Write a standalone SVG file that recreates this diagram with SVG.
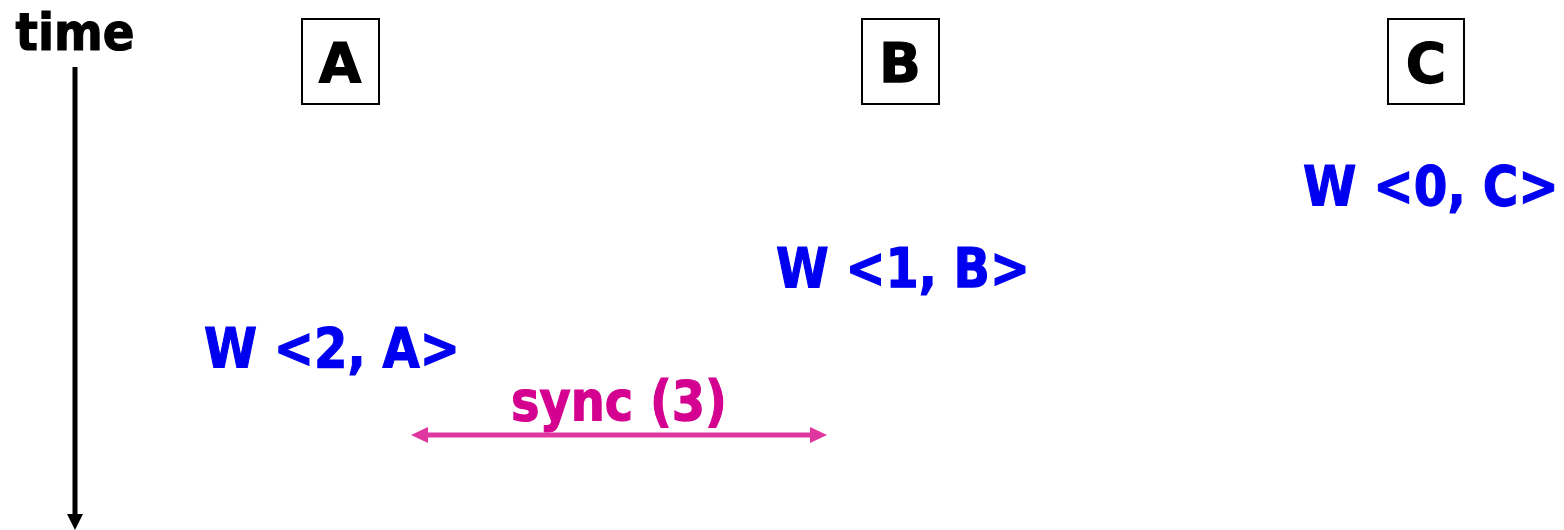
<svg xmlns="http://www.w3.org/2000/svg" width="1564" height="530" viewBox="0 0 1564 530">
<style>
text{font-family:"DejaVu Sans",Verdana,sans-serif;font-weight:bold;stroke-width:1.2;}
.lbl{font-size:55px;fill:#000;stroke:#000;text-anchor:middle;}
.w{font-size:55px;fill:#0000F0;stroke:#0000F0;}
.box{fill:#fff;stroke:#000;stroke-width:2;}
.pk{fill:#E036A0;}
</style>
<g id="time-axis">
<text x="75" y="50" font-size="52" text-anchor="middle" fill="#000" stroke="#000" textLength="119" lengthAdjust="spacingAndGlyphs">time</text>
</g>
<g id="node-A"><rect class="box" x="302" y="19" width="77" height="85"/><text class="lbl" x="340" y="82">A</text></g>
<g id="node-B"><rect class="box" x="862" y="19" width="77" height="85"/><text class="lbl" x="900" y="82">B</text></g>
<g id="node-C"><rect class="box" x="1388" y="19" width="76" height="85"/><text class="lbl" x="1426" y="82">C</text></g>
<g id="w0"><text class="w" transform="translate(1303,205) scale(0.88,1)" x="0" y="0">W &lt;0, C&gt;</text></g>
<g id="w1"><text class="w" x="776" y="287" textLength="254" lengthAdjust="spacingAndGlyphs">W &lt;1, B&gt;</text></g>
<g id="w2"><text class="w" x="204" y="367" textLength="256" lengthAdjust="spacingAndGlyphs">W &lt;2, A&gt;</text></g>
<g id="sync"><text x="511" y="420" font-size="55" fill="#D4008F" stroke="#D4008F" textLength="216" lengthAdjust="spacingAndGlyphs">sync (3)</text></g>
<g id="connectors">
<line x1="75" y1="67" x2="75" y2="516" stroke="#000" stroke-width="5"/>
<path d="M67,514L83,514L75,530z" fill="#000"/>
<line x1="426" y1="435" x2="812" y2="435" stroke="#E036A0" stroke-width="5"/>
<path class="pk" d="M428,427L428,443L411,435z"/>
<path class="pk" d="M810,427L810,443L827,435z"/>
</g>
</svg>
